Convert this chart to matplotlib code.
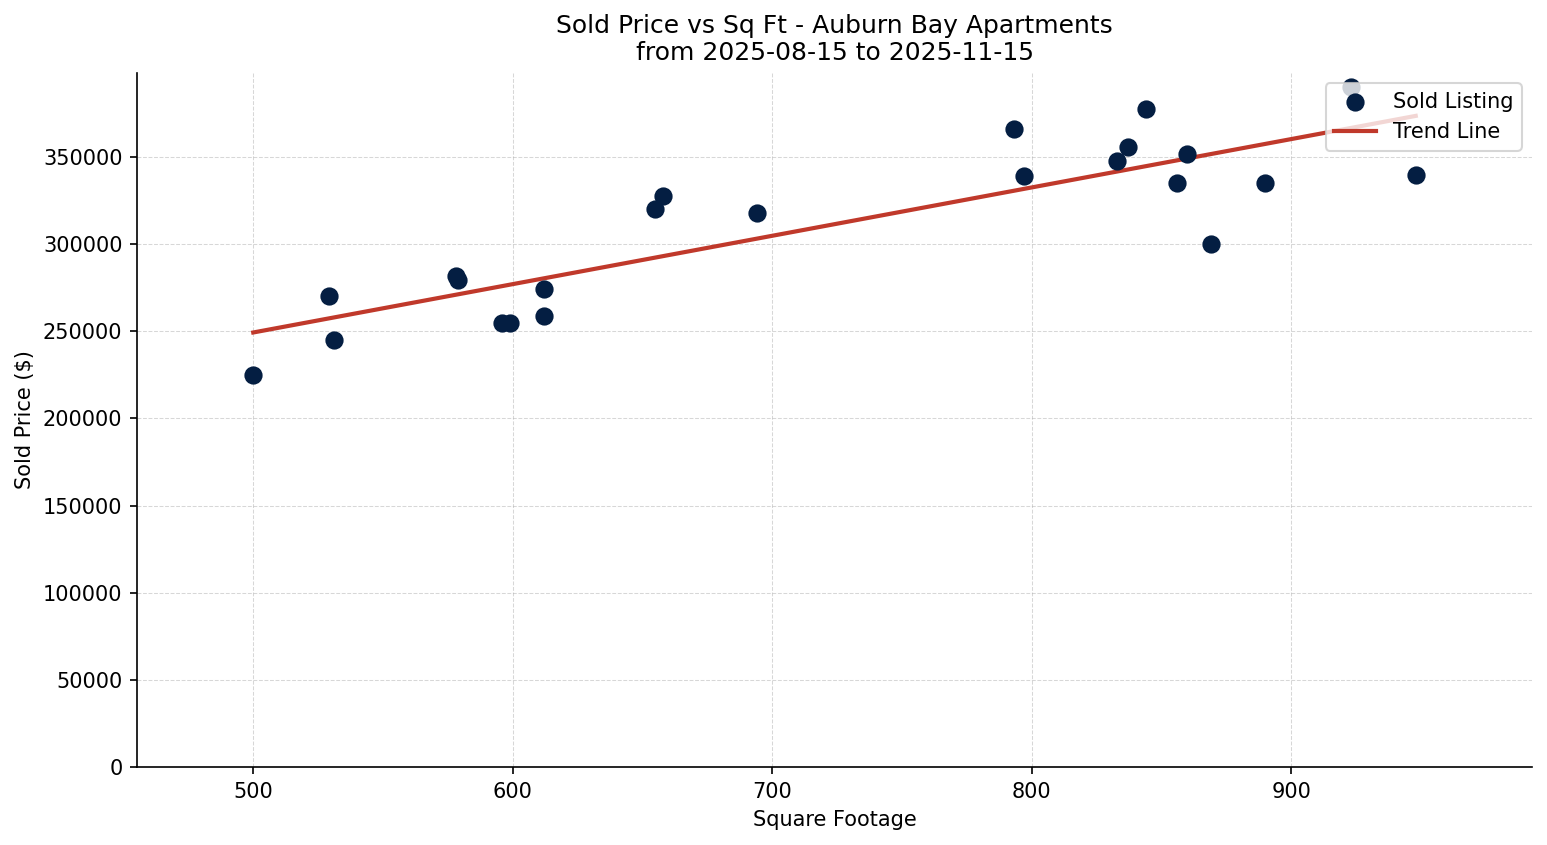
import matplotlib
matplotlib.use("Agg")
import matplotlib.pyplot as plt
import numpy as np

# sold listings (square footage, sold price)
sqft = [500, 529, 531, 578, 579, 596, 599, 612, 612, 655, 658, 694,
        793, 797, 833, 837, 844, 856, 860, 869, 890, 923, 948]
price = [225000, 270000, 245000, 282000, 279500, 255000, 255000, 274500, 259000,
         320000, 327500, 318000, 366000, 339000, 347500, 355500, 377500, 335000,
         352000, 300000, 335000, 390000, 340000]

start_date = "2025-08-15"
end_date = "2025-11-15"

x = np.array(sqft)
y = np.array(price)

# linear trend
m, b = np.polyfit(x, y, 1)
x_line = np.array([x.min(), x.max()])
y_line = m * x_line + b

fig, ax = plt.subplots(figsize=(1547 / 150, 845 / 150), dpi=150)

ax.scatter(x, y, s=60, color="#041e42", label="Sold Listing", zorder=3)
ax.plot(x_line, y_line, color="#c0392b", linewidth=2, label="Trend Line", zorder=2)

ax.set_title(f"Sold Price vs Sq Ft - Auburn Bay Apartments\nfrom {start_date} to {end_date}")
ax.set_xlabel("Square Footage")
ax.set_ylabel("Sold Price ($)")

pad = 0.1 * (x.max() - x.min())
ax.set_xlim(x.min() - pad, x.max() + pad)
ax.set_ylim(bottom=0)

ax.grid(True, linestyle="--", linewidth=0.5, alpha=0.5)
ax.spines["top"].set_visible(False)
ax.spines["right"].set_visible(False)
ax.legend(loc="upper right")

fig.subplots_adjust(left=137 / 1547, right=1532 / 1547, top=1 - 73 / 845, bottom=1 - 767 / 845)
plt.savefig("out.png", dpi=150)
